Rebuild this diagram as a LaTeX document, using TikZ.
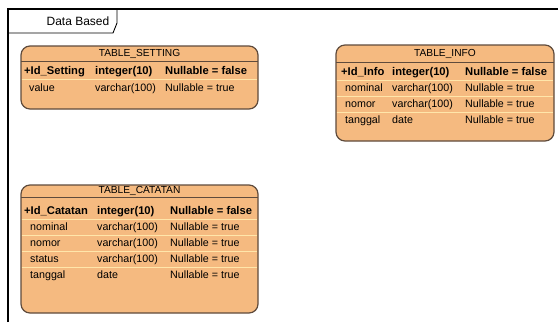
\documentclass[tikz,border=0pt]{standalone}
\usepackage{fontspec}
\setmainfont{Liberation Sans}
\definecolor{tfill}{RGB}{245,186,128}
\definecolor{tborder}{RGB}{95,75,60}
\definecolor{tsep}{RGB}{255,230,170}
\begin{document}
\begin{tikzpicture}[x=1pt,y=-1pt,
  tbl/.style={draw=tborder, fill=tfill, line width=1.2pt, rounded corners=9pt},
  ttl/.style={font=\fontsize{10.2}{12}\selectfont, inner sep=0pt, text height=7.5pt, text depth=2pt, anchor=center},
  hd/.style={font=\fontsize{11.2}{13}\selectfont\bfseries, inner sep=0pt, text height=8pt, text depth=2pt, anchor=west},
  fld/.style={font=\fontsize{10.7}{13}\selectfont, inner sep=0pt, text height=8pt, text depth=2pt, anchor=west},
  tline/.style={draw=tborder, line width=1pt},
  rsep/.style={draw=tsep, line width=1pt}]
\useasboundingbox (0,0) rectangle (558,322);
\fill[white] (0,0) rectangle (558,322);
% frame
\draw[line width=1.4pt] (8,322) -- (8,9) -- (558,9);
\draw[line width=0.9pt] (8,33) -- (113,33) -- (117,23) -- (117,9);
\node[font=\fontsize{12}{14}\selectfont, inner sep=0pt, text height=8.5pt, text depth=2.5pt] (tab) at (78,22) {Data Based};

% TABLE_SETTING
\draw[tbl] (21,46) rectangle (258,109);
\draw[tline] (21,61) -- (258,61);
\draw[rsep] (21.6,79) -- (257.4,79);
\node[ttl] (sTitle) at (139.5,53.5) {TABLE\_SETTING};
\node[hd] (s1a) at (24,71) {+Id\_Setting};
\node[hd] (s1b) at (95,71) {integer(10)};
\node[hd] (s1c) at (165,71) {Nullable = false};
\node[fld] (s2a) at (29,88) {value};
\node[fld] (s2b) at (95,88) {varchar(100)};
\node[fld] (s2c) at (165,88) {Nullable = true};

% TABLE_INFO
\draw[tbl] (336,45) rectangle (554,141);
\draw[tline] (336,62) -- (554,62);
\draw[rsep] (336.6,80) -- (553.4,80);
\draw[rsep] (336.6,96) -- (553.4,96);
\draw[rsep] (336.6,112) -- (553.4,112);
\node[ttl] (iTitle) at (445,53.5) {TABLE\_INFO};
\node[hd] (i1a) at (341,72) {+Id\_Info};
\node[hd] (i1b) at (392,72) {integer(10)};
\node[hd] (i1c) at (465,72) {Nullable = false};
\node[fld] (i2a) at (345,88) {nominal};
\node[fld] (i2b) at (392,88) {varchar(100)};
\node[fld] (i2c) at (465,88) {Nullable = true};
\node[fld] (i3a) at (345,104) {nomor};
\node[fld] (i3b) at (392,104) {varchar(100)};
\node[fld] (i3c) at (465,104) {Nullable = true};
\node[fld] (i4a) at (345,120) {tanggal};
\node[fld] (i4b) at (392,120) {date};
\node[fld] (i4c) at (465,120) {Nullable = true};

% TABLE_CATATAN
\draw[tbl] (21,185) rectangle (258,313);
\draw[tline] (21,197) -- (258,197);
\draw[rsep] (21.6,219) -- (257.4,219);
\draw[rsep] (21.6,235) -- (257.4,235);
\draw[rsep] (21.6,251) -- (257.4,251);
\draw[rsep] (21.6,267) -- (257.4,267);
\node[ttl] (cTitle) at (139.5,191) {TABLE\_CATATAN};
\node[hd] (c1a) at (24,211) {+Id\_Catatan};
\node[hd] (c1b) at (97,211) {integer(10)};
\node[hd] (c1c) at (170,211) {Nullable = false};
\node[fld] (c2a) at (30,227) {nominal};
\node[fld] (c2b) at (97,227) {varchar(100)};
\node[fld] (c2c) at (170,227) {Nullable = true};
\node[fld] (c3a) at (30,243) {nomor};
\node[fld] (c3b) at (97,243) {varchar(100)};
\node[fld] (c3c) at (170,243) {Nullable = true};
\node[fld] (c4a) at (30,259) {status};
\node[fld] (c4b) at (97,259) {varchar(100)};
\node[fld] (c4c) at (170,259) {Nullable = true};
\node[fld] (c5a) at (30,275) {tanggal};
\node[fld] (c5b) at (97,275) {date};
\node[fld] (c5c) at (170,275) {Nullable = true};
\end{tikzpicture}
\end{document}
